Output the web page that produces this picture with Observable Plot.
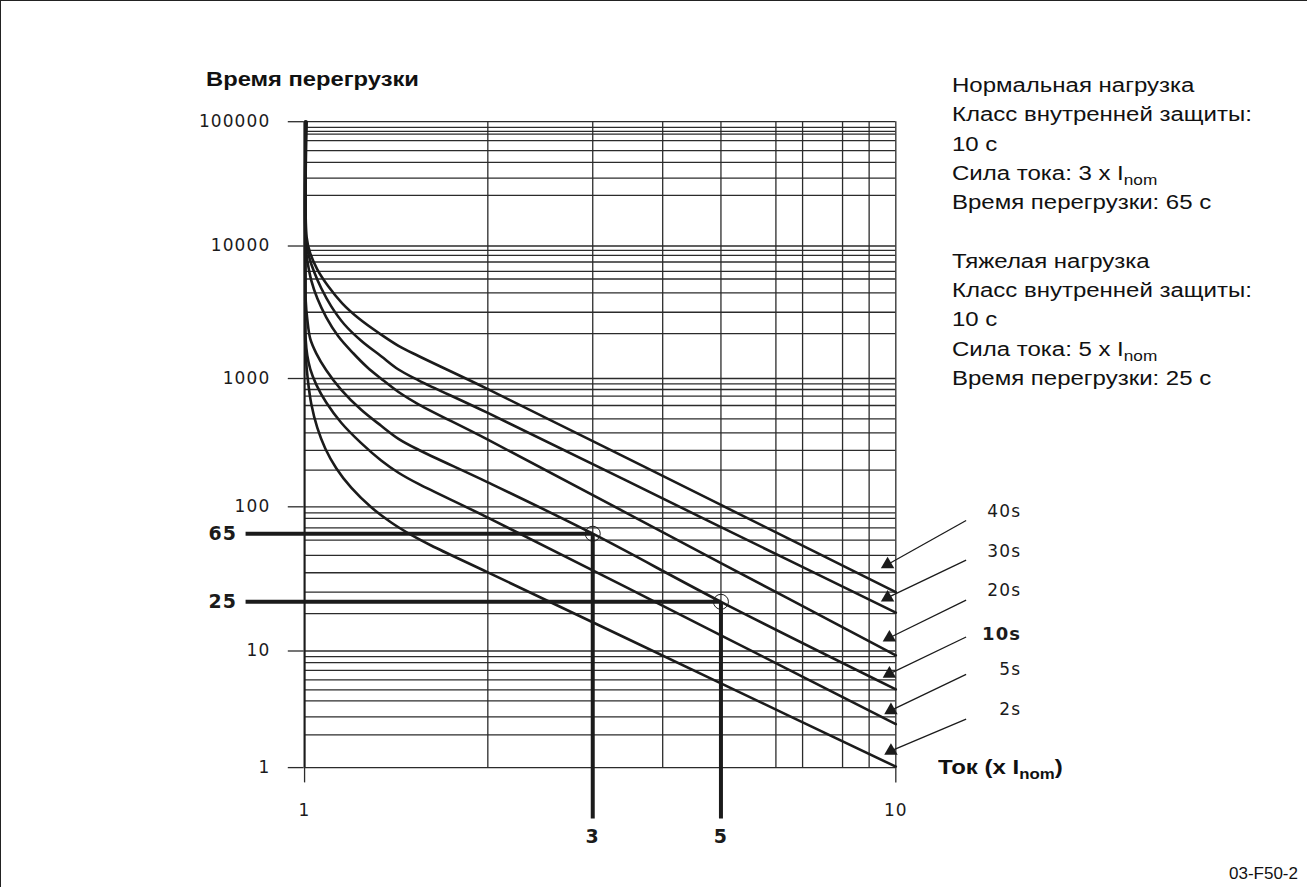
<!DOCTYPE html>
<html><head><meta charset="utf-8">
<script src="https://cdn.jsdelivr.net/npm/d3@7"></script>
<script src="https://cdn.jsdelivr.net/npm/@observablehq/plot@0.6"></script>
<style>
html,body{margin:0;padding:0;background:#fff;}
#wrap{position:relative;width:1307px;height:887px;overflow:hidden;background:#fff;box-sizing:border-box;border-left:1.5px solid #222;border-top:1.5px solid #222;}
#wrap svg{position:absolute;left:0;top:0;}
#wrap svg text{letter-spacing:1.1px;}
.ov{position:absolute;color:#111;white-space:nowrap;transform-origin:0 0;}
#title{left:205px;top:66px;font:bold 21px "Liberation Sans",Arial,sans-serif;transform:scaleX(1.13);}
#info{left:951px;top:70px;font:19.5px/29.3px "Liberation Sans",Arial,sans-serif;transform:scaleX(1.23);}
#xlab{left:937px;top:755px;font:bold 20px "Liberation Sans",Arial,sans-serif;transform:scaleX(1.2);}
sub{font-size:14px;vertical-align:-5px;line-height:0;}
#cap{left:1228px;top:863px;font:17px "Liberation Sans",Arial,sans-serif;}
</style></head><body>
<div id="wrap">
<div class="ov" id="title">Время перегрузки</div>
<div class="ov" id="info">Нормальная нагрузка<br>Класс внутренней защиты:<br>10 с<br>Сила тока: 3 x I<sub>nom</sub><br>Время перегрузки: 65 с<br><br>Тяжелая нагрузка<br>Класс внутренней защиты:<br>10 с<br>Сила тока: 5 x I<sub>nom</sub><br>Время перегрузки: 25 с</div>
<div class="ov" id="xlab">Ток (x I<sub>nom</sub>)</div>
<div class="ov" id="cap">03-F50-2</div>
</div>
<script>
// ---- grid / tick values ----
const gridX = [1, 2, 3, 4, 5, 6, 7, 8, 9, 10];
const gridY = [1, 2, 3, 4, 5, 6, 7, 8, 9,
  10, 20, 30, 40, 50, 60, 70, 80, 90,
  100, 200, 300, 400, 500, 600, 700, 800, 900,
  1000, 2000, 3000, 4000, 5000, 6000, 7000, 8000, 9000,
  10000, 20000, 30000, 40000, 50000, 60000, 70000, 80000, 90000, 100000];
const yTicks = [1, 10, 100, 1000, 10000, 100000];
const xTicks = [1, 10];

// ---- tripping curves: [current (x I_nom), overload time (s)] ----
const curveNames = ["40s", "30s", "20s", "10s", "5s", "2s"];
const c40 = [[1.008,100000],[1.008,11263],[1.0218,8385],[1.0492,6202],[1.0937,4453],[1.1531,3429],[1.2297,2651],[1.3262,2011],[1.4265,1655],[1.5386,1414],[2,806.7],[5,103.6],[10,30]];
const c30 = [[1.0057,100000],[1.0057,10664],[1.0179,7687],[1.0374,5859],[1.0652,4310],[1.1062,3276],[1.1619,2388],[1.2389,1790],[1.336,1410],[1.4265,1149],[1.5386,965.5],[2,542],[5,70.7],[10,20.4]];
const c20 = [[1.0045,100000],[1.0045,9686],[1.0122,6851],[1.0256,4897],[1.0492,3696],[1.0855,2727],[1.1359,1918],[1.2021,1476],[1.2674,1190],[1.336,996],[1.4265,761],[1.5386,612],[2,358],[5,45.3],[10,9.23]];
const c10 = [[1.0034,100000],[1.0034,6000],[1.0045,3534],[1.0103,2625],[1.0218,1840],[1.0452,1474],[1.0855,1135],[1.1488,795],[1.2389,566],[1.336,448],[1.4265,363],[1.5386,303.5],[2,158.9],[3,65],[5,25],[10,5.06]];
const c5  = [[1.0027,100000],[1.0027,3534],[1.0045,1795],[1.0103,1425],[1.0218,1157],[1.0452,887],[1.0855,630],[1.1488,470],[1.2389,338],[1.336,244],[1.4265,190.4],[1.5386,154.1],[2,81.4],[5,13.39],[10,2.55]];
const c2  = [[1.0019,100000],[1.0019,2000],[1.0045,1432],[1.0122,986],[1.0256,618],[1.0492,434.5],[1.0814,310],[1.1273,208],[1.193,143.4],[1.2867,99.1],[1.3877,75.5],[1.4968,64.04],[1.6142,56.26],[2,40.2],[5,5.64],[10,1.02]];
const curves = [c40, c30, c20, c10, c5, c2];

// ---- worked examples ----
const refCurrent = [3, 5];
const refTime = [65, 25];

// ---- table for the line mark ----
const curveRows = curves.flatMap((c, k) => c.map(([x, y]) => ({name: curveNames[k], x, y})));

// calibration of the printed (unevenly scanned) log grid: scale breakpoints
const xRange = [303.3, 486.7, 591.7, 661.7, 720, 775, 801.7, 841.7, 868.3, 895];
const yRange = [766.7, 734, 716, 700, 689, 679, 669.3, 661.7, 655.7,
  650, 612.7, 591, 571.7, 554.3, 539, 526.7, 517.3, 511.7,
  505.7, 469, 449.3, 431.7, 417.7, 404.3, 395, 388.3, 382.7,
  377.3, 332.3, 311, 291.7, 277.7, 270, 260.7, 254, 249,
  244.7, 194, 176.7, 161, 149.3, 139.3, 132.7, 130, 126, 120.3];

const ink = "#1b1b1b";
const gridInk = "#2b2b2b";
const numFont = "DejaVu Sans";
const arrowX = [9.68, 9.68, 9.75, 9.75, 9.81, 9.81];
const arrowY = [44.5, 27.0, 12.8, 6.62, 3.38, 1.425];
const labelY = [92.7, 52.6, 30.45, 13.64, 7.12, 3.45];
const leaderY = [77.6, 47.0, 25.8, 12.97, 6.56, 2.85];
const idx = d => curveNames.indexOf(d);

const chart = Plot.plot({
  width: 1307, height: 887,
  marginLeft: 303, marginRight: 412, marginTop: 120, marginBottom: 120,
  x: {type: "log", domain: gridX, range: xRange},
  y: {type: "log", domain: gridY, range: yRange},
  style: {fontFamily: numFont, fontSize: "17px", color: ink, background: "transparent"},
  marks: [
    Plot.ruleY(gridY, {y: d => d, x1: 1, x2: 10, stroke: gridInk, strokeWidth: 1.3}),
    Plot.ruleX(gridX, {x: d => d, y1: 1, y2: 100000, stroke: gridInk, strokeWidth: 1.3}),
    Plot.ruleX([1], {x: d => d, y1: 1, y2: 100000, stroke: ink, strokeWidth: 2}),
    Plot.axisY({ticks: yTicks, tickSize: 16, tickPadding: 18, tickFormat: d => String(d), label: null, fontSize: 17, stroke: gridInk, strokeWidth: 1.3}),
    Plot.axisX({ticks: xTicks, tickSize: 15, tickPadding: 21, tickFormat: d => String(d), label: null, fontSize: 17, stroke: gridInk, strokeWidth: 1.3}),
    Plot.line(curveRows, {x: "x", y: "y", z: "name", stroke: ink, strokeWidth: 2.6, curve: "catmull-rom"}),
    // worked examples: 3 x Inom -> 65 s, 5 x Inom -> 25 s
    Plot.link(refCurrent, {x1: 0.8, x2: d => d, y1: (d, i) => refTime[i], y2: (d, i) => refTime[i], stroke: ink, strokeWidth: 4}),
    Plot.link(refCurrent, {x1: d => d, x2: d => d, y1: (d, i) => refTime[i], y2: 0.34, stroke: ink, strokeWidth: 4}),
    Plot.dot(refCurrent, {x: d => d, y: (d, i) => refTime[i], r: 7.5, stroke: ink, strokeWidth: 1, fill: "none"}),
    Plot.text(refTime, {x: 0.775, y: d => d, text: d => String(d), textAnchor: "end", fontWeight: "bold", fontSize: 19, fill: ink}),
    Plot.text(refCurrent, {x: d => d, y: 0.23, text: d => String(d), fontWeight: "bold", fontSize: 19, fill: ink}),
    // curve labels with leader arrows
    Plot.link(curveNames, {x1: 13.2, x2: arrowX, y1: leaderY, y2: arrowY, stroke: ink, strokeWidth: 1.3}),
    Plot.dot(curveNames, {x: arrowX, y: arrowY, symbol: "triangle", r: 5, fill: ink, stroke: "none"}),
    Plot.text(curveNames.filter(d => d !== "10s"), {x: 16.4, y: d => labelY[idx(d)], text: d => d, textAnchor: "end",
      fontSize: 17, fill: ink}),
    Plot.text(curveNames.filter(d => d === "10s"), {x: 16.4, y: d => labelY[idx(d)], text: d => d, textAnchor: "end",
      fontSize: 18, fontWeight: "bold", fill: ink})
  ]
});
document.getElementById("wrap").prepend(chart);
</script>
</body></html>
